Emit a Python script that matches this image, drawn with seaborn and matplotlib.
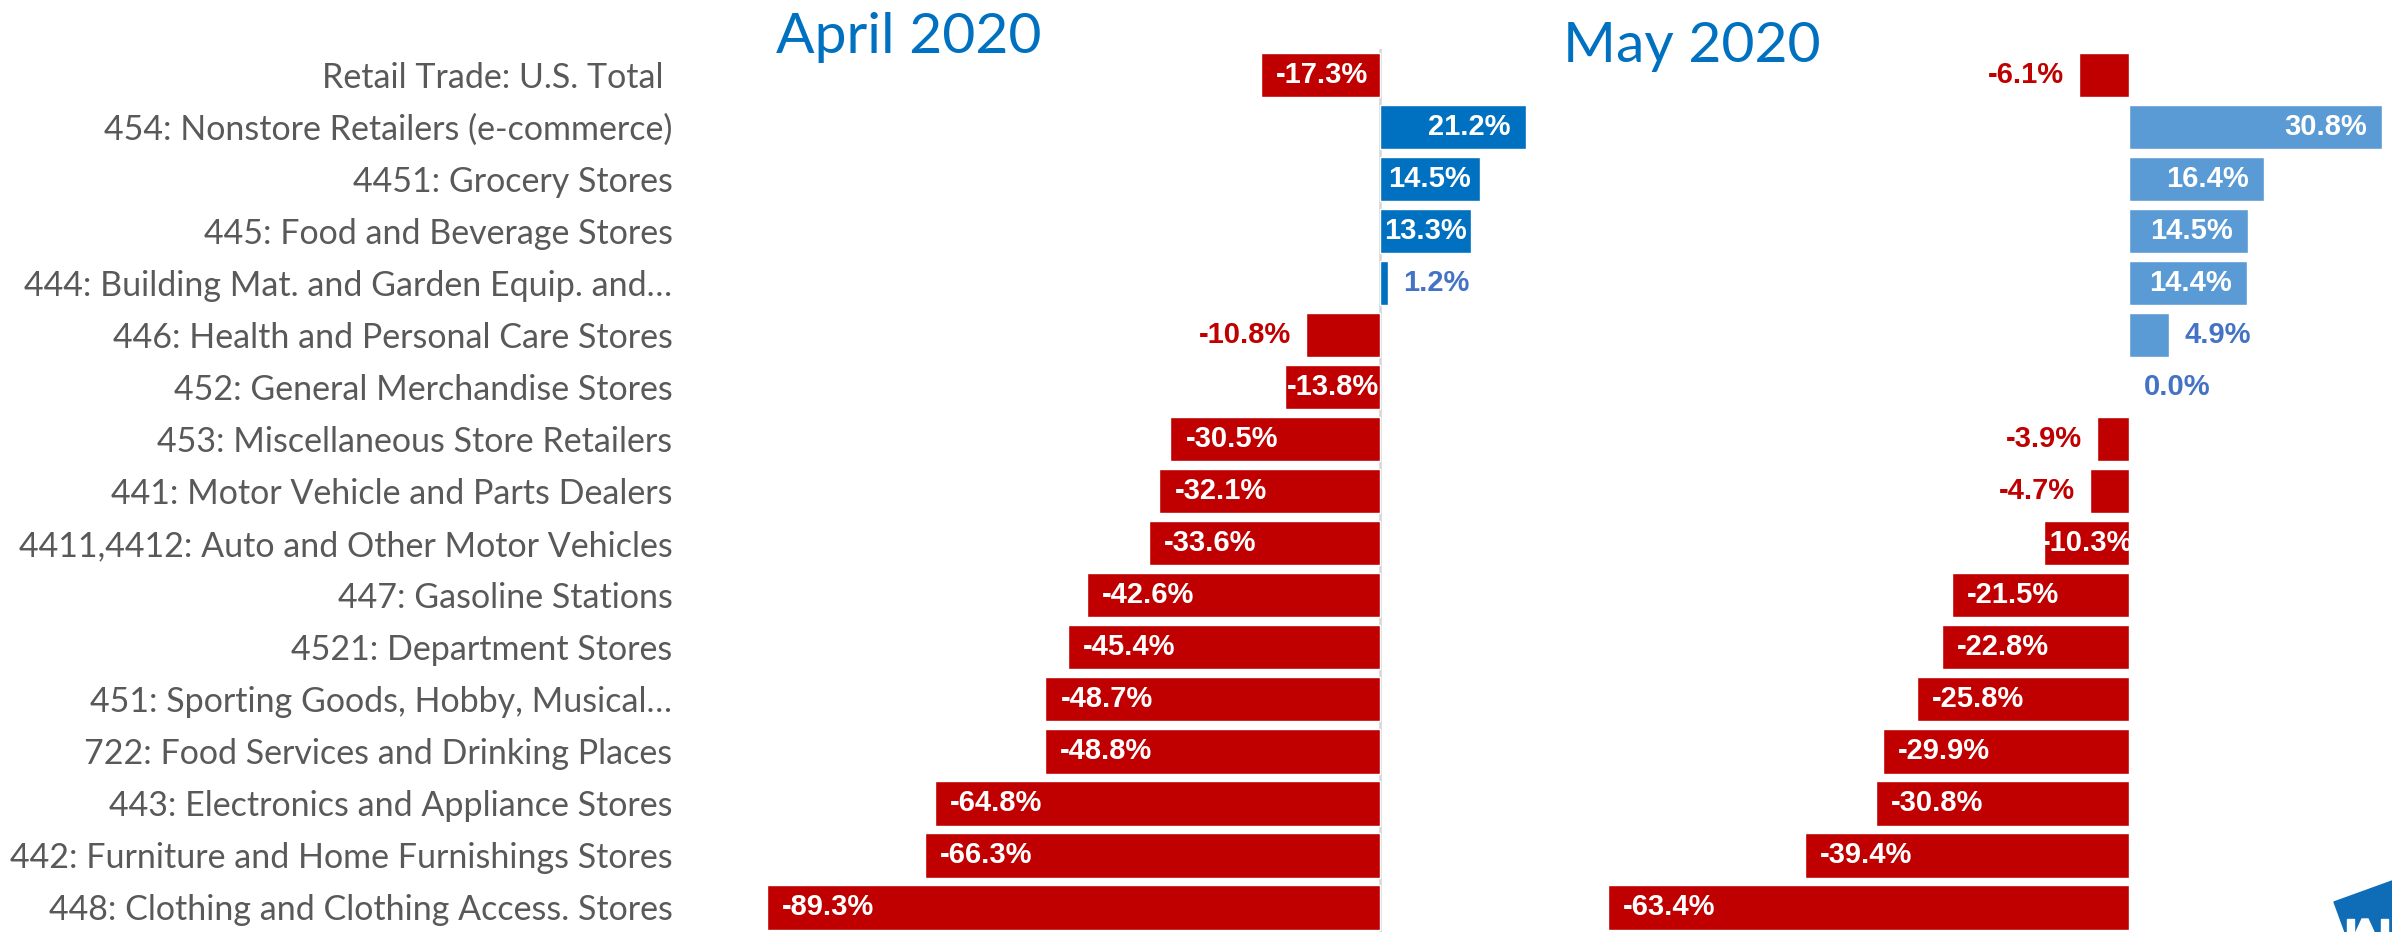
import numpy as np
import pandas as pd
import matplotlib
matplotlib.use("Agg")
import matplotlib.pyplot as plt
from matplotlib.patches import Polygon, Rectangle
import seaborn as sns

# Retail sales change by sector, April and May 2020 (year over year)
sectors = [
    "Retail Trade: U.S. Total ",
    "454: Nonstore Retailers (e-commerce)",
    "4451: Grocery Stores",
    "445: Food and Beverage Stores",
    "444: Building Mat. and Garden Equip. and\u2026",
    "446: Health and Personal Care Stores",
    "452: General Merchandise Stores",
    "453: Miscellaneous Store Retailers",
    "441: Motor Vehicle and Parts Dealers",
    "4411,4412: Auto and Other Motor Vehicles",
    "447: Gasoline Stations",
    "4521: Department Stores",
    "451: Sporting Goods, Hobby, Musical\u2026",
    "722: Food Services and Drinking Places",
    "443: Electronics and Appliance Stores",
    "442: Furniture and Home Furnishings Stores",
    "448: Clothing and Clothing Access. Stores",
]
april = [-17.3, 21.2, 14.5, 13.3, 1.2, -10.8, -13.8, -30.5, -32.1, -33.6,
         -42.6, -45.4, -48.7, -48.8, -64.8, -66.3, -89.3]
may = [-6.1, 30.8, 16.4, 14.5, 14.4, 4.9, 0.0, -3.9, -4.7, -10.3,
       -21.5, -22.8, -25.8, -29.9, -30.8, -39.4, -63.4]

df = pd.DataFrame({"sector": sectors, "april": april, "may": may})

RED = "#C00000"
BLUE_APR = "#0070C0"
BLUE_MAY = "#5B9BD5"
LBL_BLUE = "#4472C4"
TITLE_BLUE = "#0070C0"

W, H = 2392, 932
sns.set_style("white")
plt.rcParams["font.family"] = ["Lato", "DejaVu Sans"]
num_font = ["Liberation Sans Narrow", "Liberation Sans", "DejaVu Sans"]

fig = plt.figure(figsize=(W / 100, H / 100), dpi=100)

top_px = 49
row_last = (H - 75) / 52.03
ax1 = fig.add_axes([760 / W, 0, (1540 - 760) / W, (H - top_px) / H])
ax2 = fig.add_axes([1600 / W, 0, (W - 1600) / W, (H - top_px) / H])

panels = [
    (ax1, "april", BLUE_APR, 6.87, 1380),
    (ax2, "may", BLUE_MAY, 8.22, 2129),
]

for ax, col, pos_color, px_per_unit, zero_px in panels:
    left_px = ax.get_position().x0 * W
    right_px = ax.get_position().x1 * W
    colors = [pos_color if v >= 0 else RED for v in df[col]]
    sns.barplot(data=df, x=col, y="sector", hue="sector", palette=colors,
                legend=False, width=0.85, saturation=1, orient="h", ax=ax)
    ax.set_xlim((left_px - zero_px) / px_per_unit, (right_px - zero_px) / px_per_unit)
    ax.set_ylim(row_last, -0.5)
    ax.set_xlabel("")
    ax.set_ylabel("")
    ax.set_xticks([])
    sns.despine(ax=ax, left=True, bottom=True)

    pad = 15 / px_per_unit
    for i, v in enumerate(df[col]):
        s = f"{v:.1f}%"
        bar_px = abs(v) * px_per_unit
        tw = 14 * len(s)
        kw = dict(va="center", fontsize=21, fontweight="bold", family=num_font)
        if bar_px >= 80:
            if bar_px - tw < 30:
                ax.text(v / 2, i, s, ha="center", color="white", **kw)
            elif v < 0:
                ax.text(v + pad, i, s, ha="left", color="white", **kw)
            else:
                ax.text(v - pad, i, s, ha="right", color="white", **kw)
        else:
            if v < 0:
                ax.text(v - pad, i, s, ha="right", color=RED, **kw)
            else:
                ax.text(v + pad, i, s, ha="left", color=LBL_BLUE, **kw)

ax1.axvline(0, color="#D9D9D9", lw=2, zorder=0)
ax1.tick_params(axis="y", length=0, pad=63, labelsize=24.5, labelcolor="#595959")
ax2.set_yticks([])

fig.text(776 / W, 1 - 53 / H, "April 2020", color=TITLE_BLUE, fontsize=41,
         ha="left", va="baseline")
fig.text(1563 / W, 1 - 62 / H, "May 2020", color=TITLE_BLUE, fontsize=41,
         ha="left", va="baseline")

# partial logo in the bottom-right corner (shapes only)
logo = Polygon([(2334 / W, 1 - 902 / H), (1, 1 - 881 / H), (1, 0), (2345 / W, 0)],
               closed=True, transform=fig.transFigure, color="#0F6CB6", zorder=5)
fig.patches.append(logo)
fig.patches.append(Rectangle((2347 / W, 0), 7 / W, 13 / H, transform=fig.transFigure,
                             color="white", zorder=6))
fig.patches.append(Polygon([(2356 / W, 0), (2362 / W, 13 / H), (2368 / W, 13 / H),
                            (2374 / W, 0)], closed=True, transform=fig.transFigure,
                           color="white", zorder=6))
fig.patches.append(Rectangle((2381 / W, 0), 7 / W, 13 / H, transform=fig.transFigure,
                             color="white", zorder=6))

fig.savefig("out.png", dpi=100)
